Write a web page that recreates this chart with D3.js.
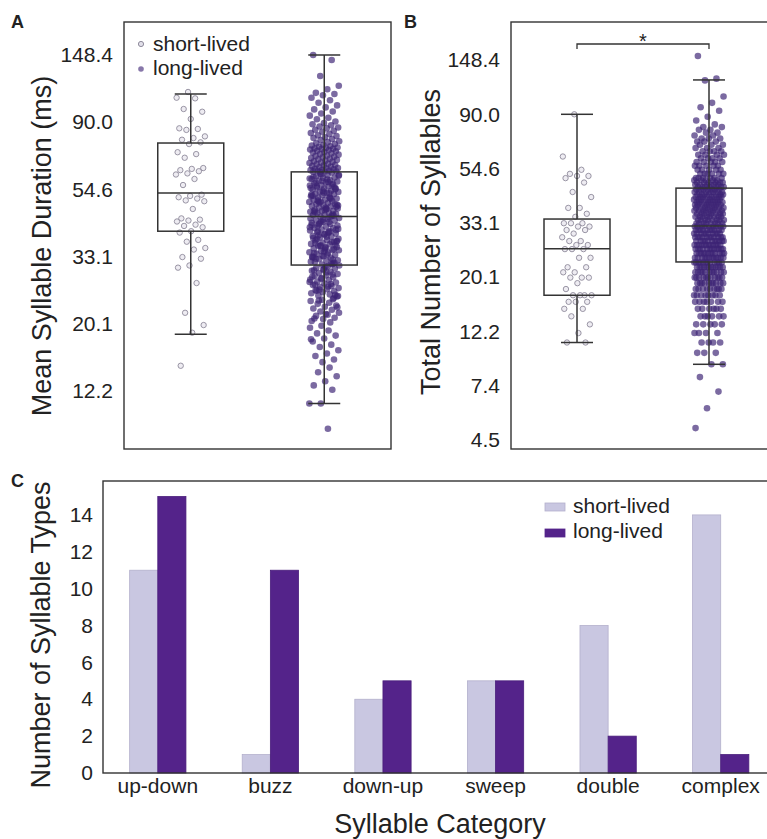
<!DOCTYPE html>
<html><head><meta charset="utf-8">
<script src="https://cdn.jsdelivr.net/npm/d3@7"></script>
<style>
body{margin:0;background:#fff}
svg{display:block}
text{font-family:"Liberation Sans",Arial,Helvetica,sans-serif;fill:#222}
</style>
</head><body>
<svg id="chart" width="767" height="839"></svg>
<script>
// ---------------- DATA ----------------
const groups = ["short-lived", "long-lived"];

// Panel A: mean syllable duration (ms), one value per individual
const durShort = [112.7, 108, 107.5, 99.3, 97.3, 92.2, 86, 85.6, 85, 81, 80, 79, 77.5, 76.5, 72, 71, 69.1, 64, 63.6, 63, 62.5, 61.5, 61, 59, 56.4, 52.5, 52, 51.5, 51, 50.3, 50, 47.2, 44, 43.6, 43.3, 43, 42, 41.6, 41.2, 40, 39.6, 37.5, 37, 35.3, 34.9, 33, 32.6, 31, 30.5, 27.2, 21.8, 19.9, 18.8, 14.7];
const durLong = [
 148.4, 143, 127, 118, 115, 112, 111, 110,
 108, 106, 104, 102, 100.5, 99, 97.5, 96, 94.5, 93, 92, 90.5,
 89.5, 88.7, 88, 87.2, 86.5, 86, 85.1, 84.4, 83.8, 83, 82.5, 81.7, 81.2, 80.5, 80, 79.4, 78.8, 78.1, 77.6, 77, 76.5, 76, 75.7, 75.3, 75, 74.6, 74.3, 74, 73.9, 73.8,
 73.5, 73.2, 72.8, 72.5, 72.1, 71.8, 71.4, 71, 70.7, 70.3, 70, 69.6, 69.3, 69, 68.6, 68.3, 68, 67.6, 67.3, 67, 66.7, 66.4, 66.1, 65.8, 65.5, 65.2, 64.9, 64.6, 64.3, 64, 63.8, 63.6, 63.4, 63.2, 63, 62.8, 62.7, 62.5, 62.4, 62.3,
 61.9, 61.3, 60.8, 60.7, 60.1, 59.6, 59.5, 59.0, 58.4, 58.3, 57.9, 57.5, 57.1, 56.9, 56.3, 56.2, 55.8, 55.4, 55.0, 54.9, 54.5, 54.1, 53.7, 53.6, 53.2, 52.8, 52.7, 52.3, 51.9, 51.5, 51.4, 51.0, 50.6, 50.5, 50.1, 49.8, 49.7, 49.3, 49.0, 48.9, 48.5, 48.2, 48.1, 47.7, 47.4, 47.3, 46.9, 46.6, 46.5, 46.2, 45.9, 45.8, 45.5, 45.2, 45.1, 44.8, 62.1, 60.4, 58.8, 57.3, 55.6, 54.0, 52.5, 51.2, 49.9, 48.7, 47.6, 46.4, 45.3, 61.0, 59.2, 57.7, 56.0, 54.7, 53.3, 52.0, 50.9, 49.5, 48.4, 47.1, 46.0, 44.9, 58.1, 55.2, 53.0, 50.3, 48.0, 46.8, 60.0, 56.6,
 44.5, 44.1, 43.8, 43.4, 43.3, 42.9, 42.6, 42.2, 42.1, 41.7, 41.4, 41.0, 40.9, 40.5, 40.2, 39.8, 39.7, 39.3, 39.0, 38.6, 38.5, 38.2, 37.8, 37.5, 37.4, 37.0, 36.7, 36.4, 36.3, 35.9, 35.6, 35.3, 35.2, 34.8, 34.5, 34.2, 34.1, 33.8, 33.5, 33.2, 33.1, 32.8, 32.5, 32.2, 32.1, 31.8, 31.5, 31.2, 44.0, 42.8, 41.6, 40.4, 39.2, 38.0, 36.9, 35.8, 34.7, 33.6, 32.6, 31.6, 43.6, 41.9, 40.0, 38.8, 37.2, 35.5, 34.0, 32.4, 43.0, 41.2, 39.5, 37.7, 36.1, 34.4, 32.9, 31.4, 42.4, 40.7, 38.4, 36.6, 35.0, 33.3, 31.9, 44.3, 39.9, 37.1, 34.9, 33.0, 31.3, 36.0,
 31.0, 30.8, 30.5, 30.3, 30.0, 29.8, 29.6, 29.3, 29.1, 28.8, 28.7, 28.4, 28.2, 27.9, 27.8, 27.5, 27.3, 27.1, 26.8, 26.6, 26.4, 26.2, 26.0, 25.8, 25.6, 25.4, 25.2, 25.0, 24.8, 24.6, 30.7, 29.9, 29.0, 28.1, 27.4, 26.5, 25.7, 24.9, 30.2, 28.5, 27.0, 25.9, 24.7, 29.5, 26.9,
 24.3, 24.0, 23.8, 23.5, 23.3, 23.0, 22.8, 22.5, 22.3, 22.0, 21.8, 21.5, 21.3, 21.0, 20.8, 20.5, 20.3, 23.9, 22.7, 21.6, 20.9, 24.1,
 19.8, 19.5, 19.1, 18.7, 18.4, 18.0, 17.6, 17.2, 16.9, 16.5, 16.1, 15.8, 15.4, 15.1, 17.9,
 14.5, 14.0, 13.6, 13.1, 12.7, 12.3, 11.1, 11.1, 9.2];
// box statistics [lower whisker, Q1, median, Q3, upper whisker]
const durBoxShort = [18.6, 40.0, 53.2, 77.1, 111.0];
const durBoxLong  = [11.1, 31.1, 44.6, 62.2, 148.4];
const durTicks = [12.2, 20.1, 33.1, 54.6, 90.0, 148.4];

// Panel B: total number of syllables (integer counts)
const numShort = [90, 61, 54, 52, 51, 51, 50, 48, 44, 42, 38, 38, 36, 35, 33, 33, 33, 32, 32, 31, 31, 30, 29, 28, 28, 27, 27, 26, 26, 26, 24, 24, 22, 22, 21, 21, 20, 20, 20, 19, 18, 17, 17, 17, 17, 16, 16, 16, 15, 15, 14, 13, 12, 11, 11];
// long-lived given as frequency table: value / number of individuals
const numLongValues = [154,125,123,106,100,96,93,88,85,82,80,78,76,74,72,70,68,66,64,62,60,58,56,54,52,50,49,48,47,46,45,44,43,42,41,40,39,38,37,36,35,34,33,32,31,30,29,28,27,26,25,24,23,22,21,20,19,18,17,16,15,14,13,12,11,10,9,8,7,6,5];
const numLongCounts = [1,1,1,1,1,1,1,1,1,1,2,2,2,2,3,3,3,3,4,4,4,5,5,5,6,6,5,6,6,7,7,7,7,8,8,8,8,8,8,8,8,8,8,9,10,10,11,11,12,12,12,12,12,12,11,11,10,9,8,7,6,6,5,4,4,3,2,1,1,1,1];
const numBoxShort = [11.0, 17.0, 26.1, 34.3, 90.0];
const numBoxLong  = [9.0, 23.1, 32.2, 45.6, 123.5];
const numTicks = [4.5, 7.4, 12.2, 20.1, 33.1, 54.6, 90.0, 148.4];

// Panel C: number of syllable types per category
const categories = ["up-down", "buzz", "down-up", "sweep", "double", "complex"];
const typesShort = [11, 1, 4, 5, 8, 14];
const typesLong  = [15, 11, 5, 5, 2, 1];
const typeTicks = [0, 2, 4, 6, 8, 10, 12, 14];

// ---------------- STYLE ----------------
const FONT_TICK = 21, FONT_TITLE = 27;
const C_LIGHT = "#c9c7e1", C_DARK = "#54238a";
const C_PT_LONG = "#3d2374";
const LINE = "#333";

const svg = d3.select("#chart");
const jit = (i, k) => ((i * 0.6180339887 + k) % 1) - 0.5;

function boxPanel(opts) {
  const {x0, x1, y0, y1, yDomain, ticks, shortVals, longVals, boxS, boxL, title, titleX, titleY} = opts;
  const g = svg.append("g");
  const x = d3.scalePoint().domain(groups).range([x0, x1]).padding(0.5);
  const y = d3.scaleLog().domain(yDomain).range([y1, y0]);
  // points
  g.append("g").selectAll("circle").data(longVals).join("circle")
    .attr("cx", (d, i) => x("long-lived") + jit(i, 0.13) * 30)
    .attr("cy", d => y(d)).attr("r", 3.3)
    .attr("fill", C_PT_LONG).attr("fill-opacity", 0.68);
  g.append("g").selectAll("circle").data(shortVals).join("circle")
    .attr("cx", (d, i) => x("short-lived") + jit(i, 0.41) * 30)
    .attr("cy", d => y(d)).attr("r", 2.7)
    .attr("fill", "#e2e0ea").attr("fill-opacity", 0.6)
    .attr("stroke", "#8f8b9b").attr("stroke-width", 1).attr("stroke-opacity", 0.9);
  // boxes
  [["short-lived", boxS], ["long-lived", boxL]].forEach(([k, s]) => {
    const cx = x(k), hw = 33, cw = 16;
    const bg = g.append("g").attr("stroke", LINE).attr("stroke-width", 1.5).attr("fill", "none");
    bg.append("line").attr("x1", cx).attr("x2", cx).attr("y1", y(s[4])).attr("y2", y(s[3]));
    bg.append("line").attr("x1", cx).attr("x2", cx).attr("y1", y(s[1])).attr("y2", y(s[0]));
    bg.append("line").attr("x1", cx - cw).attr("x2", cx + cw).attr("y1", y(s[4])).attr("y2", y(s[4]));
    bg.append("line").attr("x1", cx - cw).attr("x2", cx + cw).attr("y1", y(s[0])).attr("y2", y(s[0]));
    bg.append("rect").attr("x", cx - hw).attr("width", 2 * hw).attr("y", y(s[3])).attr("height", y(s[1]) - y(s[3]));
    bg.append("line").attr("x1", cx - hw).attr("x2", cx + hw).attr("y1", y(s[2])).attr("y2", y(s[2]));
  });
  // frame
  g.append("rect").attr("x", x0).attr("y", y0).attr("width", x1 - x0).attr("height", y1 - y0)
    .attr("fill", "none").attr("stroke", LINE).attr("stroke-width", 1.4);
  // axis
  const ax = g.append("g").attr("transform", `translate(${x0},0)`)
    .call(d3.axisLeft(y).tickValues(ticks).tickFormat(d3.format(".1f")).tickSize(0).tickPadding(11));
  ax.select(".domain").remove();
  ax.selectAll("text").style("font-size", FONT_TICK + "px").attr("fill", "#222")
    .style("font-family", '"Liberation Sans",Arial,sans-serif');
  g.append("text").attr("transform", `translate(${titleX},${titleY}) rotate(-90)`)
    .attr("text-anchor", "middle").style("font-size", FONT_TITLE + "px").text(title);
  return {x, y, g};
}

// Panel A
const A = boxPanel({
  x0: 124, x1: 391, y0: 22, y1: 449,
  yDomain: [Math.exp(2.0685), Math.exp(5.2455)],
  ticks: durTicks, shortVals: durShort, longVals: durLong,
  boxS: durBoxShort, boxL: durBoxLong,
  title: "Mean Syllable Duration (ms)", titleX: 51, titleY: 246
});
// legend A
A.g.append("circle").attr("cx", 141).attr("cy", 44).attr("r", 2.6)
  .attr("fill", "#e2e0ea").attr("stroke", "#8f8b9b").attr("stroke-width", 1);
A.g.append("circle").attr("cx", 141).attr("cy", 69).attr("r", 2.8)
  .attr("fill", C_PT_LONG).attr("fill-opacity", 0.62);
A.g.append("text").attr("x", 153).attr("y", 51).style("font-size", FONT_TICK + "px").text(groups[0]);
A.g.append("text").attr("x", 153).attr("y", 75).style("font-size", FONT_TICK + "px").text(groups[1]);

// Panel B
const numLong = numLongValues.flatMap((v, i) => Array(numLongCounts[i]).fill(v));
const B = boxPanel({
  x0: 511, x1: 775, y0: 22, y1: 449,
  yDomain: [Math.exp(1.4171), Math.exp(5.3499)],
  ticks: numTicks, shortVals: numShort, longVals: numLong,
  boxS: numBoxShort, boxL: numBoxLong,
  title: "Total Number of Syllables", titleX: 440, titleY: 242
});
// significance bracket
const bx1 = B.x("short-lived"), bx2 = B.x("long-lived");
B.g.append("path").attr("d", `M${bx1},49V44H${bx2}V49`).attr("fill", "none")
  .attr("stroke", LINE).attr("stroke-width", 1.3);
B.g.append("text").attr("x", (bx1 + bx2) / 2).attr("y", 48).attr("text-anchor", "middle")
  .style("font-size", "20px").text("*");

// Panel C
const cx0 = 103, cx1 = 783, cy0 = 481, cy1 = 773;
const xC = d3.scaleBand().domain(categories).range([101.5, 777]).paddingInner(0.5).paddingOuter(0.25);
const xSub = d3.scaleBand().domain(groups).range([0, xC.bandwidth()]);
const yC = d3.scaleLinear().domain([0, 15.84]).range([cy1, cy0]);
const gC = svg.append("g");
const seriesC = [typesShort, typesLong];
groups.forEach((gname, si) => {
  gC.append("g").selectAll("rect").data(categories).join("rect")
    .attr("x", c => xC(c) + xSub(gname))
    .attr("width", xSub.bandwidth())
    .attr("y", (c, i) => yC(seriesC[si][i]))
    .attr("height", (c, i) => yC(0) - yC(seriesC[si][i]))
    .attr("fill", si === 0 ? C_LIGHT : C_DARK)
    .attr("stroke", si === 0 ? "#b3b0cc" : "#4a1e7c").attr("stroke-width", 0.8);
});
gC.append("rect").attr("x", cx0).attr("y", cy0).attr("width", cx1 - cx0).attr("height", cy1 - cy0)
  .attr("fill", "none").attr("stroke", LINE).attr("stroke-width", 1.4);
const axCy = gC.append("g").attr("transform", `translate(${cx0},0)`)
  .call(d3.axisLeft(yC).tickValues(typeTicks).tickSize(0).tickPadding(10));
axCy.select(".domain").remove();
axCy.selectAll("text").style("font-size", FONT_TICK + "px").attr("fill", "#222")
  .style("font-family", '"Liberation Sans",Arial,sans-serif');
const axCx = gC.append("g").attr("transform", `translate(0,${cy1})`)
  .call(d3.axisBottom(xC).tickSize(0).tickPadding(5));
axCx.select(".domain").remove();
axCx.selectAll("text").style("font-size", FONT_TICK + "px").attr("fill", "#222")
  .style("font-family", '"Liberation Sans",Arial,sans-serif');
gC.append("text").attr("x", 440).attr("y", 833).attr("text-anchor", "middle")
  .style("font-size", FONT_TITLE + "px").text("Syllable Category");
gC.append("text").attr("transform", "translate(50,635) rotate(-90)").attr("text-anchor", "middle")
  .style("font-size", FONT_TITLE + "px").text("Number of Syllable Types");
// legend C
[[groups[0], C_LIGHT, "#b3b0cc", 503, 513], [groups[1], C_DARK, C_DARK, 529, 538]].forEach(([t, f, s, ry, ty]) => {
  gC.append("rect").attr("x", 545).attr("y", ry).attr("width", 20).attr("height", 8)
    .attr("fill", f).attr("stroke", s).attr("stroke-width", 0.8);
  gC.append("text").attr("x", 573).attr("y", ty).style("font-size", FONT_TICK + "px").text(t);
});

// panel letters
[["A", 11, 28], ["B", 404, 28], ["C", 11, 487]].forEach(([t, x, y]) => {
  svg.append("text").attr("x", x).attr("y", y).style("font-size", "18px")
    .style("font-weight", "bold").attr("fill", "#111").text(t);
});
</script>
</body></html>
